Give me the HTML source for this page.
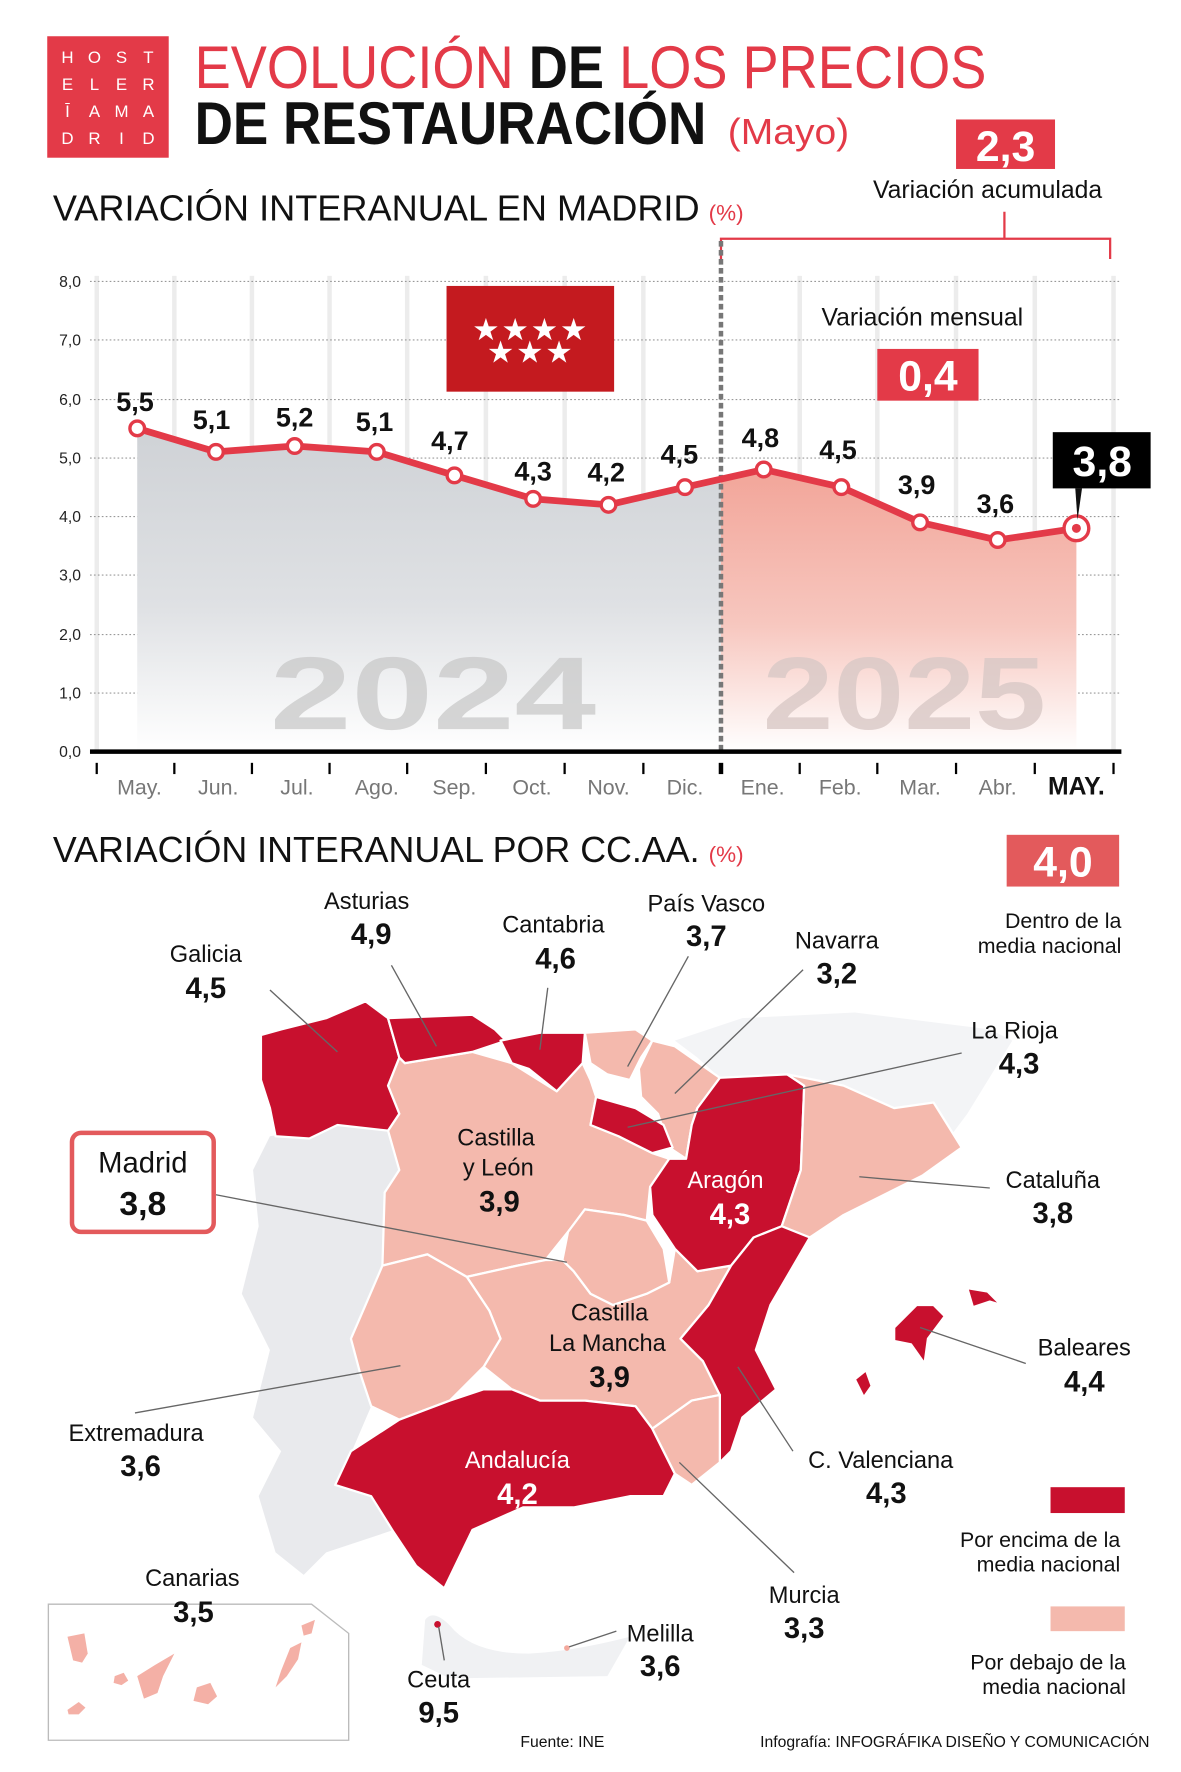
<!DOCTYPE html>
<html><head><meta charset="utf-8"><style>
html,body{margin:0;padding:0;background:#fff;}
svg{display:block;}
text{font-family:"Liberation Sans Narrow","Liberation Sans",sans-serif;}
.b{font-weight:bold;}
</style></head><body>
<svg width="1181" height="1772" viewBox="0 0 1050 1575" xmlns="http://www.w3.org/2000/svg">
<defs>
<linearGradient id="gg" x1="0" y1="0" x2="0" y2="1"><stop offset="0" stop-color="#cfd2d6"/><stop offset="0.55" stop-color="#dfe1e4"/><stop offset="1" stop-color="#ffffff"/></linearGradient>
<linearGradient id="pg" x1="0" y1="0" x2="0" y2="1"><stop offset="0" stop-color="#f2a599"/><stop offset="0.55" stop-color="#f7c7bf"/><stop offset="1" stop-color="#ffffff"/></linearGradient>
</defs>
<rect x="42" y="32" width="108" height="108" fill="#e33a48"/>
<g fill="#fff" font-size="15" font-family="Liberation Sans" text-anchor="middle">
<text x="60" y="56">H</text><text x="84" y="56">O</text><text x="108" y="56">S</text><text x="132" y="56">T</text>
<text x="60" y="80">E</text><text x="84" y="80">L</text><text x="108" y="80">E</text><text x="132" y="80">R</text>
<text x="60" y="104">Ī</text><text x="84" y="104">A</text><text x="108" y="104">M</text><text x="132" y="104">A</text>
<text x="60" y="128">D</text><text x="84" y="128">R</text><text x="108" y="128">I</text><text x="132" y="128">D</text>
</g>
<text x="173" y="78" font-size="54" font-family="Liberation Sans" textLength="704" lengthAdjust="spacingAndGlyphs"><tspan fill="#e33a48">EVOLUCIÓN</tspan><tspan fill="#111" font-weight="bold"> DE </tspan><tspan fill="#e33a48">LOS PRECIOS</tspan></text>
<text x="173" y="128" font-size="54" font-family="Liberation Sans" font-weight="bold" fill="#111" textLength="455" lengthAdjust="spacingAndGlyphs">DE RESTAURACIÓN</text>
<text x="647" y="128" font-size="32" fill="#e33a48" textLength="108" lengthAdjust="spacingAndGlyphs">(Mayo)</text>
<text x="47" y="196" font-size="32" fill="#111" textLength="575" lengthAdjust="spacingAndGlyphs">VARIACIÓN INTERANUAL EN MADRID</text>
<text x="630" y="196" font-size="20" fill="#e33a48">(%)</text>
<rect x="850" y="106" width="88" height="44" fill="#e33a48"/>
<text x="894" y="143" font-size="38" class="b" fill="#fff" text-anchor="middle">2,3</text>
<text x="878" y="176" font-size="22" fill="#111" text-anchor="middle">Variación acumulada</text>
<path d="M641 230V212H987V230M893 212V188" stroke="#e33a48" stroke-width="2" fill="none"/>
<g stroke="#ececec" stroke-width="4">
<line x1="86" y1="245" x2="86" y2="668"/><line x1="155" y1="245" x2="155" y2="668"/><line x1="224" y1="245" x2="224" y2="668"/><line x1="293" y1="245" x2="293" y2="668"/><line x1="362" y1="245" x2="362" y2="668"/><line x1="432" y1="245" x2="432" y2="668"/><line x1="502" y1="245" x2="502" y2="668"/><line x1="572" y1="245" x2="572" y2="668"/><line x1="711" y1="245" x2="711" y2="668"/><line x1="780" y1="245" x2="780" y2="668"/><line x1="850" y1="245" x2="850" y2="668"/><line x1="920" y1="245" x2="920" y2="668"/><line x1="990" y1="245" x2="990" y2="668"/>
</g>
<g stroke="#999" stroke-width="1" stroke-dasharray="1.5 2">
<line x1="80" y1="250" x2="995" y2="250"/><line x1="80" y1="302" x2="995" y2="302"/><line x1="80" y1="355" x2="995" y2="355"/><line x1="80" y1="407" x2="995" y2="407"/><line x1="80" y1="459" x2="995" y2="459"/><line x1="80" y1="511" x2="995" y2="511"/><line x1="80" y1="564" x2="995" y2="564"/><line x1="80" y1="616" x2="995" y2="616"/>
</g>
<g font-size="14" fill="#222" text-anchor="end">
<text x="72" y="255">8,0</text><text x="72" y="307">7,0</text><text x="72" y="360">6,0</text><text x="72" y="412">5,0</text><text x="72" y="464">4,0</text><text x="72" y="516">3,0</text><text x="72" y="569">2,0</text><text x="72" y="621">1,0</text><text x="72" y="673">0,0</text>
</g>
<polygon fill="url(#gg)" points="122,668 122,380.6 192,401.5 262,396.3 335,401.5 404,422.4 474,443.3 541,448.6 609,432.9 641,425 641,668"/>
<polygon fill="url(#pg)" points="641,668 641,425 679,417.2 748,432.9 818,464.2 887,479.9 957,469.5 957,668"/>
<text x="240" y="648" font-size="92" font-family="Liberation Sans" font-weight="bold" fill="#c8c8c8" fill-opacity="0.75" textLength="290" lengthAdjust="spacingAndGlyphs">2024</text>
<text x="678" y="648" font-size="92" font-family="Liberation Sans" font-weight="bold" fill="#d8c8c5" fill-opacity="0.8" textLength="252" lengthAdjust="spacingAndGlyphs">2025</text>
<line x1="641" y1="214" x2="641" y2="668" stroke="#777" stroke-width="4" stroke-dasharray="5 3"/>
<rect x="397" y="254" width="149" height="94" fill="#c41a1f"/>
<g fill="#fff" font-size="27" font-family="DejaVu Sans" text-anchor="middle">
<text x="432" y="302">★</text><text x="458" y="302">★</text><text x="484" y="302">★</text><text x="510" y="302">★</text>
<text x="445" y="322">★</text><text x="471" y="322">★</text><text x="497" y="322">★</text>
</g>
<text x="820" y="289" font-size="22" fill="#111" text-anchor="middle">Variación mensual</text>
<rect x="780" y="310" width="90" height="46" fill="#e33a48"/>
<text x="825" y="347" font-size="38" class="b" fill="#fff" text-anchor="middle">0,4</text>
<polyline fill="none" stroke="#e33a48" stroke-width="6" stroke-linejoin="round" points="122,380.6 192,401.5 262,396.3 335,401.5 404,422.4 474,443.3 541,448.6 609,432.9 679,417.2 748,432.9 818,464.2 887,479.9 957,469.5"/>
<g fill="#fff" stroke="#e33a48" stroke-width="3">
<circle cx="122" cy="380.6" r="6.5"/><circle cx="192" cy="401.5" r="6.5"/><circle cx="262" cy="396.3" r="6.5"/><circle cx="335" cy="401.5" r="6.5"/><circle cx="404" cy="422.4" r="6.5"/><circle cx="474" cy="443.3" r="6.5"/><circle cx="541" cy="448.6" r="6.5"/><circle cx="609" cy="432.9" r="6.5"/><circle cx="679" cy="417.2" r="6.5"/><circle cx="748" cy="432.9" r="6.5"/><circle cx="818" cy="464.2" r="6.5"/><circle cx="887" cy="479.9" r="6.5"/>
<circle cx="957" cy="469.5" r="11"/></g>
<circle cx="957" cy="469.5" r="4" fill="#e33a48"/>
<g font-size="24" class="b" fill="#111" text-anchor="middle">
<text x="120" y="365">5,5</text><text x="188" y="381">5,1</text><text x="262" y="379">5,2</text><text x="333" y="383">5,1</text><text x="400" y="400">4,7</text><text x="474" y="427">4,3</text><text x="539" y="428">4,2</text><text x="604" y="412">4,5</text><text x="676" y="397">4,8</text><text x="745" y="408">4,5</text><text x="815" y="439">3,9</text><text x="885" y="456">3,6</text>
</g>
<path d="M956 434L962 434L958 462Z" fill="#111"/>
<rect x="936" y="384" width="87" height="50" fill="#000"/>
<text x="980" y="423" font-size="38" class="b" fill="#fff" text-anchor="middle">3,8</text>
<line x1="80" y1="668" x2="997" y2="668" stroke="#000" stroke-width="4"/>
<g stroke="#000" stroke-width="2">
<line x1="86" y1="678" x2="86" y2="688"/><line x1="155" y1="678" x2="155" y2="688"/><line x1="224" y1="678" x2="224" y2="688"/><line x1="293" y1="678" x2="293" y2="688"/><line x1="362" y1="678" x2="362" y2="688"/><line x1="432" y1="678" x2="432" y2="688"/><line x1="502" y1="678" x2="502" y2="688"/><line x1="572" y1="678" x2="572" y2="688"/><line x1="641" y1="678" x2="641" y2="688" stroke-width="4"/><line x1="711" y1="678" x2="711" y2="688"/><line x1="780" y1="678" x2="780" y2="688"/><line x1="850" y1="678" x2="850" y2="688"/><line x1="920" y1="678" x2="920" y2="688"/><line x1="990" y1="678" x2="990" y2="688"/>
</g>
<g font-size="19" fill="#777" text-anchor="middle">
<text x="124" y="706">May.</text><text x="194" y="706">Jun.</text><text x="264" y="706">Jul.</text><text x="335" y="706">Ago.</text><text x="404" y="706">Sep.</text><text x="473" y="706">Oct.</text><text x="541" y="706">Nov.</text><text x="609" y="706">Dic.</text><text x="678" y="706">Ene.</text><text x="747" y="706">Feb.</text><text x="818" y="706">Mar.</text><text x="887" y="706">Abr.</text>
</g>
<text x="957" y="706" font-size="22" class="b" fill="#111" text-anchor="middle">MAY.</text>

<text x="47" y="766" font-size="32" fill="#111" textLength="575" lengthAdjust="spacingAndGlyphs">VARIACIÓN INTERANUAL POR CC.AA.</text>
<text x="630" y="766" font-size="20" fill="#e33a48">(%)</text>
<rect x="895" y="742" width="100" height="46" fill="#e35a5c"/>
<text x="945" y="779" font-size="38" class="b" fill="#fff" text-anchor="middle">4,0</text>
<text x="997" y="825" font-size="19" fill="#111" text-anchor="end">Dentro de la</text>
<text x="997" y="847" font-size="19" fill="#111" text-anchor="end">media nacional</text>

<path d="M240 1010L300 1000L345 1005L355 1040L342 1060L340 1125L325 1160L315 1190L320 1220L330 1250L300 1320L330 1330L350 1360L290 1380L270 1400L245 1380L230 1330L250 1290L225 1260L240 1200L215 1150L230 1090L225 1040Z" fill="#e9eaed"/>
<path d="M600 925L660 905L760 900L880 915L900 925L860 990L845 1010L830 980L795 985L750 965L700 955L640 958L620 940Z" fill="#f3f4f6"/>
<path d="M378 1440Q385 1430 400 1445Q420 1470 470 1470Q510 1468 560 1455L540 1490L400 1492L375 1480Z" fill="#f0f1f3"/>
<g stroke="#fff" stroke-width="2" stroke-linejoin="round">
<polygon fill="#f4b9ad" points="360,945 420,935 455,945 495,970 518,945 525,960 530,975 525,1000 550,1010 580,1025 595,1030 578,1055 575,1085 555,1080 520,1075 505,1095 485,1120 460,1125 415,1135 380,1115 340,1125 342,1060 355,1040 345,1005 355,990 345,965 355,940"/>
<polygon fill="#f4b9ad" points="415,1135 460,1125 485,1120 500,1120 510,1130 525,1150 545,1160 575,1150 595,1140 600,1110 620,1130 650,1125 630,1160 605,1190 625,1210 640,1240 615,1245 580,1270 565,1250 520,1245 480,1245 455,1235 430,1215 445,1190 435,1165"/>
<polygon fill="#f4b9ad" points="505,1095 520,1075 555,1080 575,1085 590,1110 595,1140 575,1150 545,1160 525,1150 510,1130 500,1120"/>
<polygon fill="#f4b9ad" points="340,1125 380,1115 415,1135 435,1165 445,1190 430,1215 400,1245 355,1262 330,1250 320,1220 312,1190 325,1160"/>
<polygon fill="#c8102e" points="232,920 250,915 290,905 325,890 345,905 355,940 345,965 355,990 345,1005 300,1000 275,1012 245,1010 240,985 232,960"/>
<polygon fill="#c8102e" points="345,905 420,902 440,915 450,925 420,935 390,940 360,945 355,940"/>
<polygon fill="#c8102e" points="445,925 480,918 520,918 518,945 495,970 470,950 455,945"/>
<polygon fill="#f4b9ad" points="520,918 565,915 580,925 570,940 560,960 540,955 525,945"/>
<polygon fill="#f4b9ad" points="580,925 600,930 640,958 620,985 615,1000 610,1030 595,1020 585,990 570,975 568,950"/>
<polygon fill="#c8102e" points="530,975 565,985 590,1000 598,1020 580,1025 550,1010 525,1000"/>
<polygon fill="#c8102e" points="640,958 700,955 715,965 712,1040 695,1090 670,1100 650,1125 620,1130 600,1110 580,1080 578,1055 595,1030 610,1030 615,1000 620,985"/>
<polygon fill="#f4b9ad" points="700,955 750,965 795,985 830,980 855,1020 820,1045 790,1060 750,1080 720,1100 695,1090 712,1040 715,965"/>
<polygon fill="#c8102e" points="670,1100 695,1090 720,1100 685,1160 672,1200 690,1235 660,1260 650,1290 640,1300 640,1240 625,1210 605,1190 630,1160 650,1125"/>
<polygon fill="#c8102e" points="355,1262 400,1245 430,1235 455,1235 480,1245 520,1245 565,1250 580,1270 600,1310 590,1330 560,1330 510,1340 465,1340 420,1360 395,1412 370,1392 350,1362 330,1330 298,1320 312,1290"/>
<polygon fill="#f4b9ad" points="580,1270 615,1245 640,1240 640,1300 615,1320 600,1310"/>
<polygon fill="#c8102e" points="795,1180 815,1160 830,1160 840,1170 825,1190 822,1212 810,1195 795,1192"/>
<polygon fill="#c8102e" points="860,1145 878,1148 890,1160 880,1157 865,1162"/>
<polygon fill="#c8102e" points="760,1226 770,1218 775,1232 768,1242"/>
</g>
<circle cx="389" cy="1444" r="3" fill="#c8102e"/>
<circle cx="504" cy="1465" r="2.5" fill="#f4a99d"/>
<path d="M43 1426H277L310 1452V1547H43Z" fill="#fff" stroke="#bbb" stroke-width="1.2"/>
<g fill="#f4b0a6">
<polygon points="60,1455 75,1452 78,1470 73,1478 65,1476"/>
<polygon points="60,1520 70,1513 76,1518 70,1524 61,1524"/>
<polygon points="102,1490 110,1487 114,1494 108,1498 101,1496"/>
<polygon points="122,1490 138,1480 155,1470 145,1490 140,1505 128,1510"/>
<polygon points="175,1500 187,1496 193,1508 185,1515 172,1512"/>
<polygon points="268,1445 280,1440 277,1452 270,1454"/>
<polygon points="258,1465 268,1460 265,1475 255,1490 245,1500 250,1485"/>
</g>
<g stroke="#666" stroke-width="1.2" fill="none">
<line x1="240" y1="880" x2="300" y2="935"/><line x1="348" y1="858" x2="388" y2="930"/><line x1="487" y1="878" x2="480" y2="933"/><line x1="612" y1="850" x2="558" y2="948"/><line x1="714" y1="862" x2="600" y2="972"/><line x1="855" y1="936" x2="558" y2="1002"/><line x1="192" y1="1062" x2="504" y2="1122"/><line x1="880" y1="1056" x2="764" y2="1046"/><line x1="912" y1="1212" x2="818" y2="1180"/><line x1="705" y1="1290" x2="656" y2="1215"/><line x1="706" y1="1398" x2="604" y2="1300"/><line x1="120" y1="1256" x2="356" y2="1214"/><line x1="395" y1="1476" x2="390" y2="1446"/><line x1="548" y1="1450" x2="506" y2="1464"/>
</g>
<g font-size="21" fill="#111" text-anchor="middle">
<text x="183" y="855">Galicia</text><text x="326" y="808">Asturias</text><text x="492" y="829">Cantabria</text><text x="628" y="810">País Vasco</text><text x="744" y="843">Navarra</text><text x="902" y="923">La Rioja</text><text x="441" y="1018">Castilla</text><text x="443" y="1045">y León</text><text x="936" y="1056">Cataluña</text><text x="542" y="1174">Castilla</text><text x="540" y="1201">La Mancha</text><text x="964" y="1205">Baleares</text><text x="121" y="1281">Extremadura</text><text x="783" y="1305">C. Valenciana</text><text x="171" y="1410">Canarias</text><text x="715" y="1425">Murcia</text><text x="587" y="1459">Melilla</text><text x="390" y="1500">Ceuta</text>
</g>
<g font-size="21" fill="#fff" text-anchor="middle"><text x="645" y="1056">Aragón</text><text x="460" y="1305">Andalucía</text></g>
<g font-size="26" class="b" fill="#111" text-anchor="middle">
<text x="183" y="887">4,5</text><text x="330" y="839">4,9</text><text x="494" y="861">4,6</text><text x="628" y="841">3,7</text><text x="744" y="874">3,2</text><text x="906" y="954">4,3</text><text x="444" y="1077">3,9</text><text x="936" y="1087">3,8</text><text x="542" y="1233">3,9</text><text x="964" y="1237">4,4</text><text x="125" y="1312">3,6</text><text x="788" y="1336">4,3</text><text x="172" y="1442">3,5</text><text x="715" y="1456">3,3</text><text x="587" y="1490">3,6</text><text x="390" y="1531">9,5</text>
</g>
<g font-size="26" class="b" fill="#fff" text-anchor="middle"><text x="649" y="1088">4,3</text><text x="460" y="1337">4,2</text></g>
<rect x="64" y="1007" width="126" height="88" rx="8" fill="#fff" stroke="#e35a5c" stroke-width="4"/>
<text x="127" y="1042" font-size="26" fill="#111" text-anchor="middle">Madrid</text>
<text x="127" y="1080" font-size="30" class="b" fill="#111" text-anchor="middle">3,8</text>
<rect x="934" y="1322" width="66" height="23" fill="#c8102e"/>
<text x="996" y="1375" font-size="19" fill="#111" text-anchor="end">Por encima de la</text>
<text x="996" y="1397" font-size="19" fill="#111" text-anchor="end">media nacional</text>
<rect x="934" y="1428" width="66" height="22" fill="#f4b9ad"/>
<text x="1001" y="1484" font-size="19" fill="#111" text-anchor="end">Por debajo de la</text>
<text x="1001" y="1506" font-size="19" fill="#111" text-anchor="end">media nacional</text>
<text x="500" y="1553" font-size="14" fill="#111" text-anchor="middle">Fuente: INE</text>
<text x="1022" y="1553" font-size="14" fill="#111" text-anchor="end">Infografía: INFOGRÁFIKA DISEÑO Y COMUNICACIÓN</text>
</svg>
</body></html>
